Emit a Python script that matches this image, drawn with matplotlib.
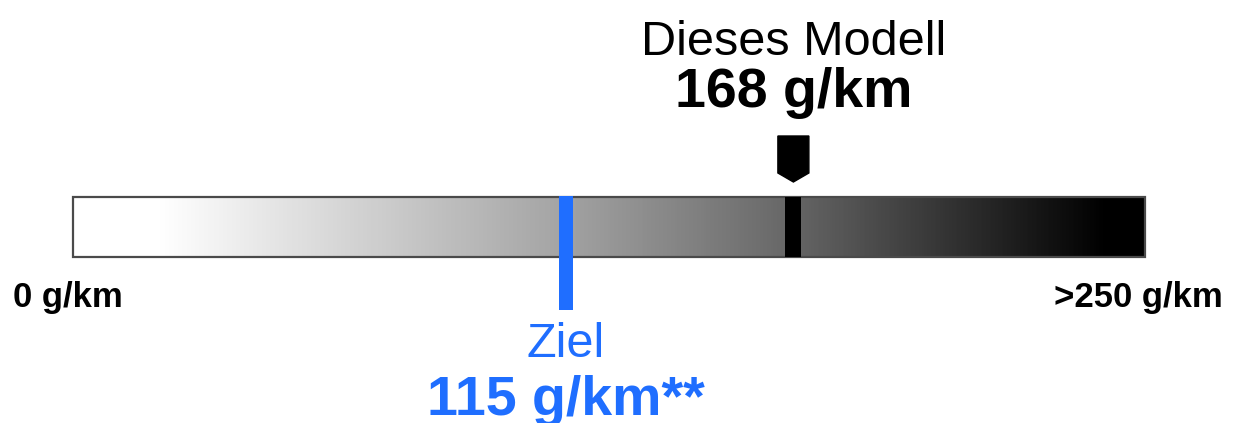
import matplotlib
matplotlib.use("Agg")
import matplotlib.pyplot as plt
import numpy as np
from matplotlib.colors import LinearSegmentedColormap
from matplotlib.patches import Rectangle, Polygon

plt.rcParams['font.family'] = ['Liberation Sans', 'DejaVu Sans']

# data
scale_min = 0
scale_max = 250
model_value = 168
target_value = 115
model_title = "Dieses Modell"
target_title = "Ziel"
left_label = "0 g/km"
right_label = ">250 g/km"

W, H = 1238, 423
fig = plt.figure(figsize=(W / 100, H / 100), dpi=100)
ax = fig.add_axes([0, 0, 1, 1])

# pixel layout: 0 g/km at x=73, 250 g/km at x=1145
px0, px1 = 73, 1145
k = (scale_max - scale_min) / (px1 - px0)
ax.set_xlim(scale_min - px0 * k, scale_min + (W - px0) * k)
ax.set_ylim(H, 0)
ax.axis('off')

# gradient bar
bar_top, bar_bot = 197, 257
stops = [(0.0, '#ffffff'), (0.08, '#ffffff'), (0.46, '#a3a3a3'),
         (0.672, '#666666'), (0.965, '#000000'), (1.0, '#000000')]
cmap = LinearSegmentedColormap.from_list('grey', stops)
grad = np.linspace(0, 1, 512).reshape(1, -1)
ax.imshow(grad, cmap=cmap, aspect='auto', extent=[scale_min, scale_max, bar_bot, bar_top],
          interpolation='bilinear', zorder=1)
ax.add_patch(Rectangle((scale_min, bar_top), scale_max - scale_min, bar_bot - bar_top,
                       fill=False, edgecolor='#4a4a4a', linewidth=1.6, zorder=2))

# model marker
ax.add_patch(Rectangle((model_value - 8 * k, bar_top), 16 * k, bar_bot - bar_top,
                       color='black', linewidth=0, zorder=3))
ax.add_patch(Polygon([(model_value - 15.5 * k, 136), (model_value + 15.5 * k, 136),
                      (model_value + 15.5 * k, 173), (model_value, 182),
                      (model_value - 15.5 * k, 173)], closed=True, color='black', zorder=3))

# target marker
blue = '#1f6eff'
ax.add_patch(Rectangle((target_value - 7 * k, bar_top - 1), 14 * k, 310 - bar_top + 1,
                       color=blue, linewidth=0, zorder=3))

# texts
ax.text(model_value, 55, model_title, ha='center', va='baseline', fontsize=35, color='black')
ax.text(model_value, 107, f"{model_value} g/km", ha='center', va='baseline',
        fontsize=40, fontweight='bold', color='black')
ax.text(target_value, 357, target_title, ha='center', va='baseline', fontsize=35, color=blue)
ax.text(target_value, 415, f"{target_value} g/km**", ha='center', va='baseline',
        fontsize=40, fontweight='bold', color=blue)
ax.text(scale_min - 60 * k, 307, left_label, ha='left', va='baseline',
        fontsize=25, fontweight='bold', color='black')
ax.text(scale_max + 78 * k, 307, right_label, ha='right', va='baseline',
        fontsize=25, fontweight='bold', color='black')

fig.savefig('out.png', dpi=100)
